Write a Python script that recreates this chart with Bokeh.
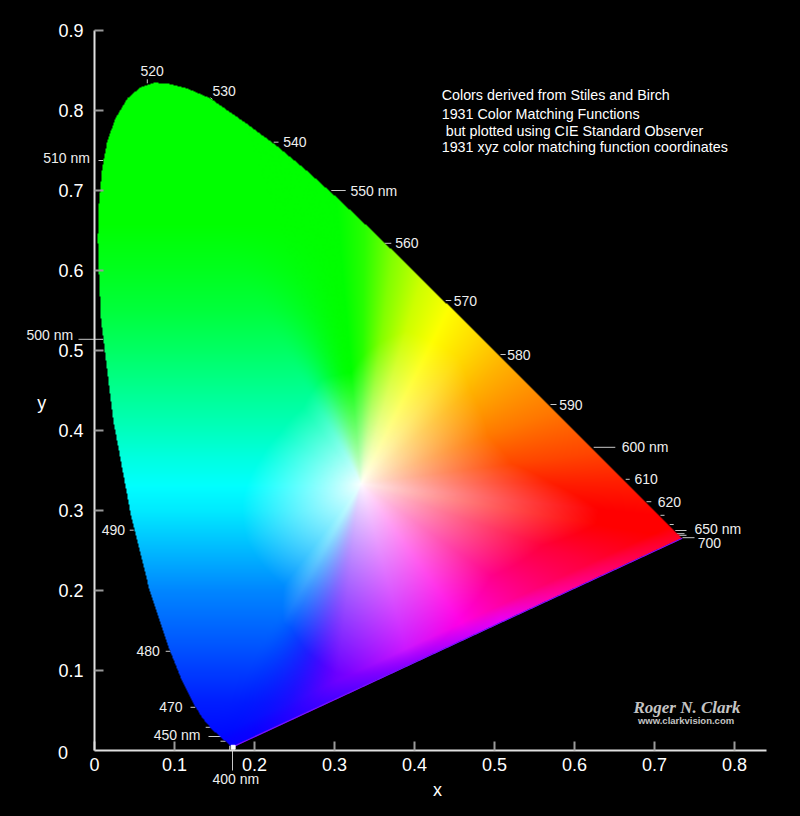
import numpy as np
from bokeh.plotting import figure
from bokeh.models import LinearAxis, FixedTicker, ColumnDataSource
from bokeh.core.properties import value
from bokeh.embed import file_html
from bokeh.resources import INLINE

FONT = "Liberation Sans"

# spectral locus outline read as x, y (from the violet end, round the dome, to the red end)
locus_x = [.1741,.1733,.1726,.1714,.1703,.1689,.1669,.1644,.1611,.1566,.1510,.1440,.1355,.1241,.1096,.0913,.0687,.0454,.0235,.0082,.0054,.0042,.0054,.0096,.0158,.026,.041,.0575,.074,.091,.116,.145,.1929,.2296,.2658,.3016,.3373,.3731,.4087,.4441,.4788,.5125,.5448,.5752,.6029,.6270,.6482,.6658,.6801,.6915,.7006,.7079,.7140,.7190,.7230,.7260,.7300,.7327,.7347]
locus_y = [.0050,.0048,.0048,.0051,.0058,.0069,.0086,.0109,.0138,.0177,.0227,.0297,.0399,.0578,.0868,.1327,.2007,.2950,.4127,.5384,.60,.64,.681,.7275,.7604,.79,.815,.829,.8346,.834,.8275,.815,.7816,.7543,.7243,.6923,.6589,.6245,.5896,.5547,.5202,.4866,.4544,.4242,.3965,.3725,.3514,.3340,.3197,.3083,.2993,.2920,.2859,.2809,.2770,.2740,.2700,.2673,.2653]

# boundary colours read round the diagram, with the distance over which each direction leaves white
hue_x = [.1733,.1566,.1241,.0913,.0687,.0454,.0235,.0082,.0039,.0139,.1547,.3016,.3373,.3731,.4087,.4441,.4788,.5125,.5752,.6270,.6658,.7079,.7347,.65,.55,.47,.395,.30,.235]
hue_y = [.0048,.0177,.0578,.1327,.2007,.2950,.4127,.5384,.6548,.7502,.8059,.6923,.6589,.6245,.5896,.5547,.5202,.4866,.4242,.3725,.3340,.2920,.2653,.2260,.1796,.1425,.1077,.0635,.0335]
hue_r = [20,0,0,0,0,0,0,0,0,0,0,0,40,130,205,255,255,255,255,255,255,255,255,255,255,255,200,110,50]
hue_g = [0,0,20,90,150,235,255,255,255,255,255,255,255,255,255,255,220,180,120,70,30,0,0,0,0,0,0,0,0]
hue_b = [255,255,255,255,255,255,180,90,30,0,0,0,0,0,0,0,0,0,0,0,0,0,0,60,140,230,255,255,255]
hue_reach = [.2,.2,.16,.16,.16,.15,.13,.12,.12,.12,.14,.14,.16,.18,.2,.2,.2,.18,.17,.19,.24,.3,.3,.24,.2,.21,.24,.24,.22]

# left part of the diagram: green and blue read by height
band_y = [0,.03,.06,.13,.2,.25,.3,.33,.36,.4,.45,.5,.55,.6,.66,.9]
band_g = [0,15,30,85,135,185,235,255,255,255,255,255,255,255,255,255]
band_b = [255,255,255,255,255,255,255,255,230,190,145,100,60,30,0,0]

# colours along the lower straight edge
edge_x = [.2,.3,.4075,.5075,.574,.68,.7347]
edge_r = [10,70,150,230,255,255,255]
edge_b = [255,255,255,255,170,80,40]

white_x, white_y = 1/3, 1/3

# wavelength labels
label_text = ["520","530","540","550 nm","560","570","580","590","600 nm","610","620","650 nm","700","510 nm","500 nm","490","480","470","450 nm","400 nm"]
label_x = [.0575,.1475,.236,.32,.376,.449,.516,.581,.659,.675,.704,.75,.754,-.064,-.085,.009,.0525,.081,.074,.1475]
label_y = [.849,.825,.761,.70,.634,.5625,.495,.4325,.379,.339,.311,.2775,.26,.741,.52,.2756,.124,.054,.019,-.036]

# wavelength tick marks
mark_x0 = [.066,.145,.224,.296,.3625,.439,.5075,.57,.624,.664,.69,.7075,.719,.726,.7275,.73,.735,.005,-.02,.044,.089,.12,.139,.1425,.1575,.169,.1725]
mark_x1 = [.066,.1475,.230,.314,.371,.446,.514,.5775,.651,.669,.696,.7125,.724,.74,.7375,.74,.75,.011,.011,.049,.095,.126,.145,.159,.164,.169,.1725]
mark_y0 = [.839,.816,.7604,.70,.634,.5625,.495,.4325,.379,.339,.311,.294,.2825,.275,.271,.269,.266,.7375,.514,.2754,.124,.054,.029,.0175,.0116,.006,0.0]
mark_y1 = [.834,.814,.7604,.70,.634,.5625,.495,.4325,.379,.339,.311,.294,.2825,.275,.271,.269,.266,.7375,.514,.2754,.124,.054,.029,.0175,.0116,0.0,-.025]

x_ticks = [0,.1,.2,.3,.4,.5,.6,.7,.8]
y_ticks = [.1,.2,.3,.4,.5,.6,.7,.8,.9]

note_lines = ["Colors derived from Stiles and Birch", "1931 Color Matching Functions",
              "but plotted using CIE Standard Observer", "1931 xyz color matching function coordinates"]
note_x = [.434, .434, .439, .434]
note_y = [.82, .796, .775, .754]

def inside(px, py, polyx, polyy):
    res = np.zeros(px.shape, dtype=bool)
    n = len(polyx)
    for i in range(n):
        x0, y0 = polyx[i], polyy[i]
        x1, y1 = polyx[(i + 1) % n], polyy[(i + 1) % n]
        if y0 == y1:
            continue
        cond = (y0 > py) != (y1 > py)
        xc = x0 + (py - y0) * (x1 - x0) / (y1 - y0)
        res ^= cond & (px < xc)
    return res

def angle(px, py):
    return np.mod(np.arctan2(np.asarray(py) - white_y, np.asarray(px) - white_x), 2 * np.pi)

def smooth(u):
    u = np.clip(u, 0, 1)
    return u * u * (3 - 2 * u)

def colour_field(gx, gy):
    lx, ly = np.array(locus_x), np.array(locus_y)
    th = angle(gx, gy)
    dist = np.hypot(gx - white_x, gy - white_y)
    hth = angle(hue_x, hue_y)
    hue = np.stack([np.interp(th, hth, np.array(c, float), period=2 * np.pi) for c in (hue_r, hue_g, hue_b)], axis=-1)
    reach = np.interp(th, hth, np.array(hue_reach), period=2 * np.pi)
    # left sector takes its hue from the height
    th_green, th_blue = angle(hue_x[11], hue_y[11]), angle(hue_x[27], hue_y[27])
    span = .45
    wl = (smooth((th - th_green) / span) * smooth((th_blue - th) / span))[..., None]
    band = np.stack([np.zeros_like(gy), np.interp(gy, band_y, band_g), np.interp(gy, band_y, band_b)], axis=-1)
    hue = hue * (1 - wl) + band * wl
    f = (np.clip(dist / reach, 0, 1) ** 0.8)[..., None]
    rgb = 255 * (1 - f) + hue * f
    # band along the straight lower edge
    ax, ay, cx, cy = lx[1], ly[1], lx[-1], ly[-1]
    ln = np.hypot(cx - ax, cy - ay)
    d = ((gy - ay) * (cx - ax) - (gx - ax) * (cy - ay)) / ln
    w = np.clip(1 - d / .02, 0, 1)[..., None]
    edge = np.stack([np.interp(gx, edge_x, edge_r), np.zeros_like(gx), np.interp(gx, edge_x, edge_b)], axis=-1)
    return rgb * (1 - w) + edge * w

W, H = 800, 816
p = figure(width=W, height=H, x_range=(-94/800, 706/800), y_range=(-66/800, 750/800),
           x_axis_location=None, y_axis_location=None, toolbar_location=None,
           output_backend="svg", background_fill_color="black", border_fill_color="black",
           min_border=0, outline_line_color=None)
p.grid.visible = False

# wavelength ticks below the colour field
p.segment(mark_x0, mark_y0, mark_x1, mark_y1, line_color="#c8c8c8", line_width=1)

# colour field
nx, ny = 600, 680
gx, gy = np.meshgrid((np.arange(nx) + .5) / 800, (np.arange(ny) + .5) / 800)
rgb = colour_field(gx, gy)
mask = inside(gx, gy, np.array(locus_x), np.array(locus_y))
img = np.zeros((ny, nx), dtype=np.uint32)
view = img.view(dtype=np.uint8).reshape((ny, nx, 4))
view[..., :3] = np.clip(rgb, 0, 255).astype(np.uint8)
view[..., 3] = mask * 255
p.image_rgba(image=[img], x=0, y=0, dw=nx/800, dh=ny/800)

# bottom violet edge
p.line([locus_x[1], locus_x[-1]], [locus_y[1], locus_y[-1]], line_color="#7a10ff", line_width=1.2)
p.scatter([locus_x[1]], [.004], marker="square", size=4, color="white")

# axes
xa = LinearAxis(ticker=FixedTicker(ticks=x_ticks), fixed_location=0, bounds=(0, .84))
ya = LinearAxis(ticker=FixedTicker(ticks=y_ticks), fixed_location=0, bounds=(0, .9))
for a in (xa, ya):
    a.axis_line_color = "#e0e0e0"
    a.axis_line_width = 2
    a.major_tick_line_color = "#999999"
    a.major_tick_line_width = 2
    a.major_tick_in = 9
    a.major_tick_out = 0
    a.minor_tick_line_color = None
    a.major_label_text_color = "white"
    a.major_label_text_font = FONT
    a.major_label_text_font_size = "18px"
    a.major_label_standoff = 11
xa.major_label_standoff = 7
p.add_layout(xa, "below")
p.add_layout(ya, "left")

# wavelength labels
src = ColumnDataSource(dict(x=label_x, y=label_y, t=label_text))
p.text("x", "y", text="t", source=src, text_color="#eeeeee", text_font=value(FONT),
       text_font_size="14px", text_baseline="middle", text_align="left")

# axis titles and zero
p.text([-.0455], [-.003], text=["0"], text_color="white", text_font=value(FONT),
       text_font_size="18px", text_baseline="middle", text_align="left")
p.text([-.0715], [.434], text=["y"], text_color="white", text_font=value(FONT),
       text_font_size="18px", text_baseline="middle", text_align="left")
p.text([.423], [-.049], text=["x"], text_color="white", text_font=value(FONT),
       text_font_size="18px", text_baseline="middle", text_align="left")

# note
p.text(note_x, note_y, text=note_lines, text_color="white", text_font=value(FONT),
       text_font_size="14.3px", text_baseline="middle", text_align="left")

# watermark
p.text([.7406], [.054], text=["Roger N. Clark"], text_color="#c4c4c4", text_font=value("Liberation Serif"),
       text_font_style="bold italic", text_font_size="17px", text_baseline="middle", text_align="center")
p.text([.7394], [.0375], text=["www.clarkvision.com"], text_color="#c4c4c4", text_font=value(FONT),
       text_font_style="bold", text_font_size="9.5px", text_baseline="middle", text_align="center")

html = file_html(p, INLINE)
html = html.replace("<head>", "<head><style>html,body{background:#000;}</style>", 1)
open("out.html", "w").write(html)
